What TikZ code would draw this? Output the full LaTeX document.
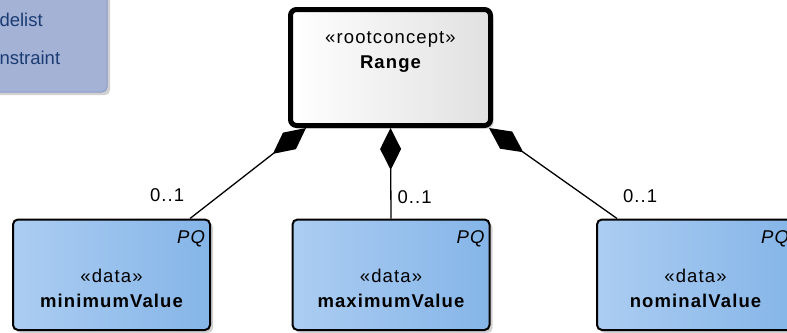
\documentclass[tikz,border=0pt]{standalone}
\usepackage{fontspec}
\setmainfont{Liberation Sans}[LetterSpace=6]
\newfontfamily\legfont{Liberation Sans}
\usetikzlibrary{arrows.meta,shadows,calc}
\definecolor{boxL}{RGB}{172,205,242}
\definecolor{boxR}{RGB}{133,181,232}
\definecolor{legfill}{RGB}{164,178,214}
\definecolor{legline}{RGB}{140,156,200}
\definecolor{legtext}{RGB}{27,60,115}
\begin{document}
\begin{tikzpicture}[x=1pt,y=-1pt,
  txt/.style={font=\fontsize{18.5}{21}\selectfont, inner sep=0pt, outer sep=0pt},
  boldtxt/.style={txt, font=\fontsize{18.5}{21}\selectfont\bfseries},
  ittxt/.style={txt, font=\fontsize{18.5}{21}\selectfont\itshape},
  legtxt/.style={txt, text=legtext, font=\legfont\fontsize{18.5}{21}\selectfont},
  shadowed/.style={drop shadow={shadow xshift=3pt, shadow yshift=-3pt, fill=black!30, opacity=0.6}},
  databox/.style={draw=black, line width=2pt, rounded corners=5pt, left color=boxL, right color=boxR,
    minimum width=197pt, minimum height=110.5pt, inner sep=0pt, shadowed},
  rootbox/.style={draw=black, line width=5pt, rounded corners=6pt, left color=white, right color=black!12,
    minimum width=200pt, minimum height=116pt, inner sep=0pt, shadowed},
  legbox/.style={draw=legline, line width=1pt, rounded corners=5pt, fill=legfill,
    minimum width=140pt, minimum height=110pt, inner sep=0pt, shadowed},
  assoc/.style={draw=black, line width=1.3pt, -{Diamond[length=42pt,width=21pt]}}
]
\useasboundingbox (0,0) rectangle (787,332);
\clip (0,0) rectangle (787,332);

% legend (partly visible)
\node[legbox, anchor=south east] (legend) at (107.5,92.5) {};
\node[legtxt, anchor=base west] (leg1) at (-0.5,27) {delist};
\node[legtxt, anchor=base west] (leg2) at (-0.5,64) {nstraint};

% root concept
\node[rootbox] (range) at (390.5,67.5) {};
\node[txt, anchor=base] (rangest) at ($(range.north)+(0,36)$) {«rootconcept»};
\node[boldtxt, anchor=base] (rangename) at ($(range.north)+(0,61)$) {Range};

% data boxes
\node[databox] (minv) at (111.5,274.75) {};
\node[databox] (maxv) at (391,274.75) {};
\node[databox] (nomv) at (695.5,274.75) {};

\foreach \b/\n in {minv/minimumValue, maxv/maximumValue, nomv/nominalValue}{
  \node[ittxt, anchor=base east] (\b-pq) at ($(\b.north east)+(-6,24.5)$) {PQ};
  \node[txt, anchor=base] (\b-st) at ($(\b.north)+(0,63.5)$) {«data»};
  \node[boldtxt, anchor=base] (\b-name) at ($(\b.north)+(0,88.5)$) {\n};
}

% connectors
\coordinate (minend) at ([xshift=-21pt]minv.north east);
\coordinate (nomend) at ([xshift=21pt]nomv.north west);
\coordinate (rleft) at ([xshift=18pt]range.south west);
\coordinate (rright) at ([xshift=-4pt]range.south east);
\draw[assoc] (minend) -- (rleft);
\draw[assoc] (maxv.north) -- (range.south);
\draw[assoc] (nomend) -- (rright);

% multiplicities
\node[txt, anchor=base west] (m1) at (150,201) {0..1};
\node[txt, anchor=base west] (m2) at (397.5,203) {0..1};
\node[txt, anchor=base west] (m3) at (623,202) {0..1};
\end{tikzpicture}
\end{document}
